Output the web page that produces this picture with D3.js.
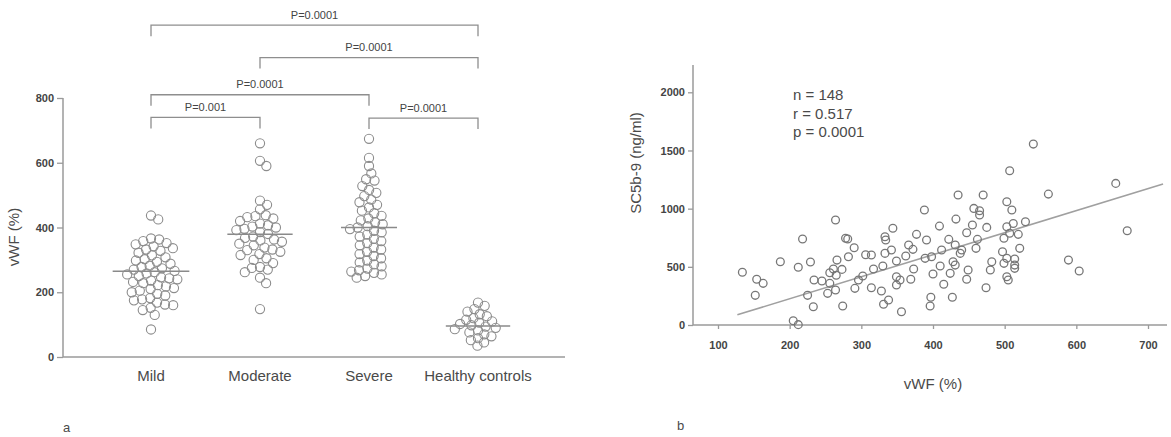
<!DOCTYPE html>
<html><head><meta charset="utf-8">
<script src="https://cdn.jsdelivr.net/npm/d3@7"></script>
<style>
html,body{margin:0;padding:0;background:#fff;}
svg{display:block;font-family:"Liberation Sans",Arial,sans-serif;}
</style></head>
<body><svg id="c" width="1171" height="437"></svg>
<script>
// ---------- Panel a data ----------
const categories = ["Mild","Moderate","Severe","Healthy controls"];
const mildValues = [85,130,145,152,160,162,168,175,178,182,190,195,200,205,210,213,218,222,228,232,236,240,243,246,250,255,258,262,266,270,274,278,282,288,294,298,302,308,314,322,328,332,336,342,348,352,358,363,366,425,437];
const moderateValues = [148,228,245,262,270,275,278,290,300,305,315,318,325,330,332,338,345,350,356,360,363,368,372,380,386,392,396,400,403,407,412,420,428,432,435,438,456,470,483,590,606,660];
const severeValues = [245,250,255,260,264,268,273,280,286,292,298,305,312,318,325,332,338,345,352,358,365,372,378,385,390,395,400,404,410,416,422,428,436,444,452,462,470,478,486,497,507,516,528,545,549,567,590,615,674];
const healthyValues = [35,45,52,58,64,70,76,82,86,90,94,98,102,106,110,115,120,126,132,140,148,158,168];
const groupValues = [mildValues, moderateValues, severeValues, healthyValues];
const groupMedians = [265, 379, 400, 96];
const yTicksA = [0,200,400,600,800];
const bracketFrom  = ["Mild","Moderate","Mild","Mild","Severe"];
const bracketTo    = ["Healthy controls","Healthy controls","Severe","Moderate","Healthy controls"];
const bracketLevel = [1025, 925, 810, 740, 738];
const bracketLabel = ["P=0.0001","P=0.0001","P=0.0001","P=0.001","P=0.0001"];

// ---------- Panel b data ----------
const vwf = [134,154,163,152,187,218,212,229,234,225,233,205,212,264,278,281,290,282,266,306,261,273,256,265,245,256,264,253,274,291,296,302,314,317,
 314,330,328,338,331,333,334,344,333,342,349,349,354,349,362,366,372,377,373,369,388,391,389,398,400,397,396,356,409,412,410,415,424,422,432,431,428,431,427,435,440,438,447,449,447,455,457,465,465,462,460,470,475,474,480,482,
 540,507,503,510,561,655,671,529,512,503,507,519,499,521,497,503,514,499,514,514,503,505,589,604];
const sc5b9 = [453,393,358,255,544,739,496,541,387,255,157,37,3,902,745,739,664,587,558,604,481,478,449,427,378,358,301,272,163,315,387,421,320,481,
 601,507,292,215,178,759,730,831,616,644,550,415,387,344,593,687,650,779,481,393,988,730,573,587,438,238,163,114,850,644,507,350,444,736,910,687,544,515,238,1117,644,616,793,473,393,859,1002,982,945,736,659,1117,839,320,473,544,
 1555,1326,1059,988,1125,1217,810,887,873,845,788,779,745,659,630,573,567,530,515,487,415,387,558,464];
const regressionX = [127, 721];
const regSlope = 1.893, regIntercept = -153;
const xTicksB = [100,200,300,400,500,600,700];
const yTicksB = [0,500,1000,1500,2000];
const statsText = ["n = 148","r = 0.517","p = 0.0001"];

const svg = d3.select("#c");
const FONT = '"Liberation Sans",Arial,sans-serif';
const axisCol = "#9a9a9a", textCol = "#4a4a4a";

// ================= Panel a =================
const xA = d3.scalePoint().domain(categories).range([151, 478]);
const yA = d3.scaleLinear().domain([0, 800]).range([357, 98]);
const gA = svg.append("g");

gA.append("line").attr("x1",63).attr("x2",63).attr("y1",yA(800)).attr("y2",yA(0)).attr("stroke",axisCol).attr("stroke-width",1.5);
gA.append("line").attr("x1",63).attr("x2",565).attr("y1",yA(0)).attr("y2",yA(0)).attr("stroke",axisCol).attr("stroke-width",1.5);
const yAxisA = d3.axisLeft(yA).tickValues(yTicksA).tickFormat(d3.format("d")).tickSize(6).tickPadding(3);
const ya = gA.append("g").attr("transform","translate(63,0)").call(yAxisA);
ya.select(".domain").remove();
ya.selectAll("line").attr("stroke",axisCol).attr("stroke-width",1.3);
ya.selectAll("text").attr("font-family",FONT).attr("font-size",11).attr("font-weight","bold").attr("fill","#444");

gA.append("text").attr("transform",`translate(19,${237}) rotate(-90)`).attr("text-anchor","middle")
  .attr("font-family",FONT).attr("font-size",15).attr("fill",textCol).text("vWF (%)");

gA.selectAll("text.cat").data(categories).join("text").attr("class","cat")
  .attr("x",d=>xA(d)).attr("y",381).attr("text-anchor","middle")
  .attr("font-family",FONT).attr("font-size",15).attr("fill",textCol).text(d=>d);

gA.append("text").attr("x",63).attr("y",432).attr("font-family",FONT).attr("font-size",13).attr("fill",textCol).text("a");

function swarm(values, diameter){
  const placed = [];
  const pts = values.map(v=>({v, y:yA(v)})).sort((a,b)=>a.y-b.y);
  for(const p of pts){
    const near = placed.filter(q=>Math.abs(q.y-p.y)<diameter);
    const cands=[0];
    for(const q of near){const dx=Math.sqrt(diameter*diameter-(q.y-p.y)**2); cands.push(q.x+dx,q.x-dx);}
    cands.sort((a,b)=>Math.abs(a)-Math.abs(b));
    for(const c of cands){
      if(near.every(q=>(q.x-c)**2+(q.y-p.y)**2>=diameter*diameter-1e-6)){p.x=c;break;}
    }
    placed.push(p);
  }
  return placed;
}
const R_A = 4.6;
const swarmDiam = [8.2, 8.2, 7.8, 7.4];
groupValues.forEach((vals,i)=>{
  const cx = xA(categories[i]);
  const pts = swarm(vals, swarmDiam[i]);
  const ext = d3.max(pts, p=>Math.abs(p.x));
  const half = i===0 ? ext+12 : ext+9;
  gA.append("line").attr("x1",cx-half).attr("x2",cx+half).attr("y1",yA(groupMedians[i])).attr("y2",yA(groupMedians[i]))
    .attr("stroke","#8a8a8a").attr("stroke-width",1.5);
  gA.append("g").selectAll("circle").data(pts).join("circle")
    .attr("cx",p=>cx+p.x).attr("cy",p=>p.y).attr("r",R_A)
    .attr("fill","none").attr("stroke","#8c8c8c").attr("stroke-width",1.1);
});

bracketLabel.forEach((lab,i)=>{
  const x1=xA(bracketFrom[i]), x2=xA(bracketTo[i]), y=yA(bracketLevel[i]);
  gA.append("path").attr("d",`M${x1},${y+11}V${y}H${x2}V${y+11}`).attr("fill","none").attr("stroke","#8e8e8e").attr("stroke-width",1.3);
  gA.append("text").attr("x",(x1+x2)/2).attr("y",y-6.5).attr("text-anchor","middle")
    .attr("font-family",FONT).attr("font-size",11).attr("fill","#444").text(lab);
});

// ================= Panel b =================
const xB = d3.scaleLinear().domain([100,700]).range([718,1148]);
const yB = d3.scaleLinear().domain([0,2000]).range([325,92.3]);
const gB = svg.append("g");
gB.append("line").attr("x1",693).attr("x2",693).attr("y1",65).attr("y2",yB(0)).attr("stroke",axisCol).attr("stroke-width",1.5);
gB.append("line").attr("x1",693).attr("x2",1167).attr("y1",yB(0)).attr("y2",yB(0)).attr("stroke",axisCol).attr("stroke-width",1.5);

const yAxisB = d3.axisLeft(yB).tickValues(yTicksB).tickFormat(d3.format("d")).tickSize(5).tickPadding(3);
const yb = gB.append("g").attr("transform","translate(693,0)").call(yAxisB);
yb.select(".domain").remove();
yb.selectAll("line").attr("stroke",axisCol).attr("stroke-width",1.3);
yb.selectAll("text").attr("font-family",FONT).attr("font-size",11).attr("font-weight","bold").attr("fill","#444");

const xAxisB = d3.axisBottom(xB).tickValues(xTicksB).tickFormat(d3.format("d")).tickSize(4).tickPadding(12);
const xb = gB.append("g").attr("transform",`translate(0,${yB(0)})`).call(xAxisB);
xb.select(".domain").remove();
xb.selectAll("line").attr("stroke",axisCol).attr("stroke-width",1.3);
xb.selectAll("text").attr("font-family",FONT).attr("font-size",11).attr("font-weight","bold").attr("fill","#444");

gB.append("text").attr("transform",`translate(641,${163}) rotate(-90)`).attr("text-anchor","middle")
  .attr("font-family",FONT).attr("font-size",15).attr("fill",textCol).text("SC5b-9 (ng/ml)");
gB.append("text").attr("x",933).attr("y",389).attr("text-anchor","middle")
  .attr("font-family",FONT).attr("font-size",15).attr("fill",textCol).text("vWF (%)");
gB.append("text").attr("x",677).attr("y",430).attr("font-family",FONT).attr("font-size",13).attr("fill",textCol).text("b");

gB.selectAll("text.stat").data(statsText).join("text").attr("class","stat")
  .attr("x",793).attr("y",(d,i)=>100+i*18.5).attr("font-family",FONT).attr("font-size",15).attr("fill",textCol).text(d=>d);

gB.append("line")
  .attr("x1",xB(regressionX[0])).attr("y1",yB(regIntercept+regSlope*regressionX[0]))
  .attr("x2",xB(regressionX[1])).attr("y2",yB(regIntercept+regSlope*regressionX[1]))
  .attr("stroke","#a0a0a0").attr("stroke-width",1.6);

gB.append("g").selectAll("circle").data(vwf.map((v,i)=>[v,sc5b9[i]])).join("circle")
  .attr("cx",d=>xB(d[0])).attr("cy",d=>yB(d[1])).attr("r",3.9)
  .attr("fill","none").attr("stroke","#777").attr("stroke-width",1.3);
</script></body></html>
